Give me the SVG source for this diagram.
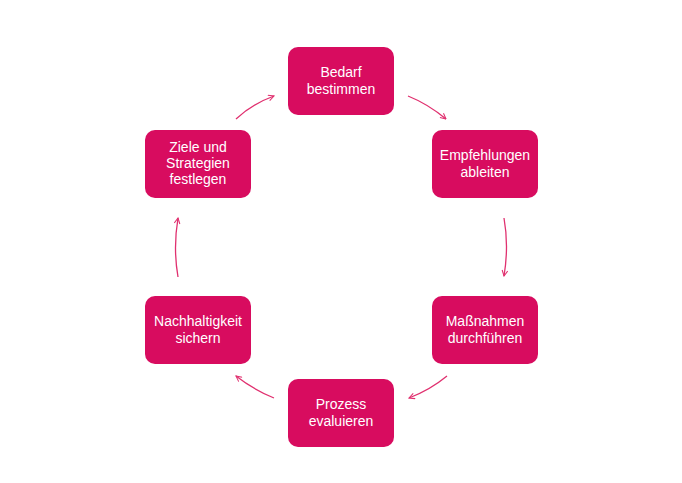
<svg xmlns="http://www.w3.org/2000/svg" width="682" height="483" viewBox="0 0 682 483">
<defs>
<style>
.box{fill:#D80C5F}
.lbl{fill:#ffffff;font-family:"Liberation Sans",Arial,sans-serif;font-size:14px;text-anchor:middle}
.arr{fill:none;stroke:#E0306F;stroke-width:1.3;marker-end:url(#ah)}
</style>
<marker id="ah" viewBox="0 0 10 10" refX="9" refY="5" markerWidth="7" markerHeight="7" orient="auto" markerUnits="userSpaceOnUse">
<path d="M1,1 L9,5 L1,9" fill="none" stroke="#E0306F" stroke-width="1.5"/>
</marker>
</defs>
<rect width="682" height="483" fill="#ffffff"/>
<g id="connectors">
<path class="arr" d="M408,96 Q428,104 446,119"/>
<path class="arr" d="M504,218 Q509,246 504,276"/>
<path class="arr" d="M447,376 Q430,390 409,398"/>
<path class="arr" d="M274,398 Q254,390 236,376"/>
<path class="arr" d="M178,277 Q173,248 178,218"/>
<path class="arr" d="M236,119 Q252,104 274,96"/>
</g>
<g id="n1"><rect class="box" x="288" y="47" width="106" height="68" rx="10"/>
<text class="lbl" x="341" y="77">Bedarf</text><text class="lbl" x="341" y="94">bestimmen</text></g>
<g id="n2"><rect class="box" x="432" y="130" width="106" height="68" rx="10"/>
<text class="lbl" x="485" y="160">Empfehlungen</text><text class="lbl" x="485" y="177">ableiten</text></g>
<g id="n3"><rect class="box" x="432" y="296" width="106" height="68" rx="10"/>
<text class="lbl" x="485" y="326">Maßnahmen</text><text class="lbl" x="485" y="343">durchführen</text></g>
<g id="n4"><rect class="box" x="288" y="379" width="106" height="68" rx="10"/>
<text class="lbl" x="341" y="409">Prozess</text><text class="lbl" x="341" y="426">evaluieren</text></g>
<g id="n5"><rect class="box" x="145" y="296" width="106" height="68" rx="10"/>
<text class="lbl" x="198" y="326">Nachhaltigkeit</text><text class="lbl" x="198" y="343">sichern</text></g>
<g id="n6"><rect class="box" x="145" y="130" width="106" height="68" rx="10"/>
<text class="lbl" x="198" y="152">Ziele und</text><text class="lbl" x="198" y="168">Strategien</text><text class="lbl" x="198" y="184">festlegen</text></g>
</svg>
